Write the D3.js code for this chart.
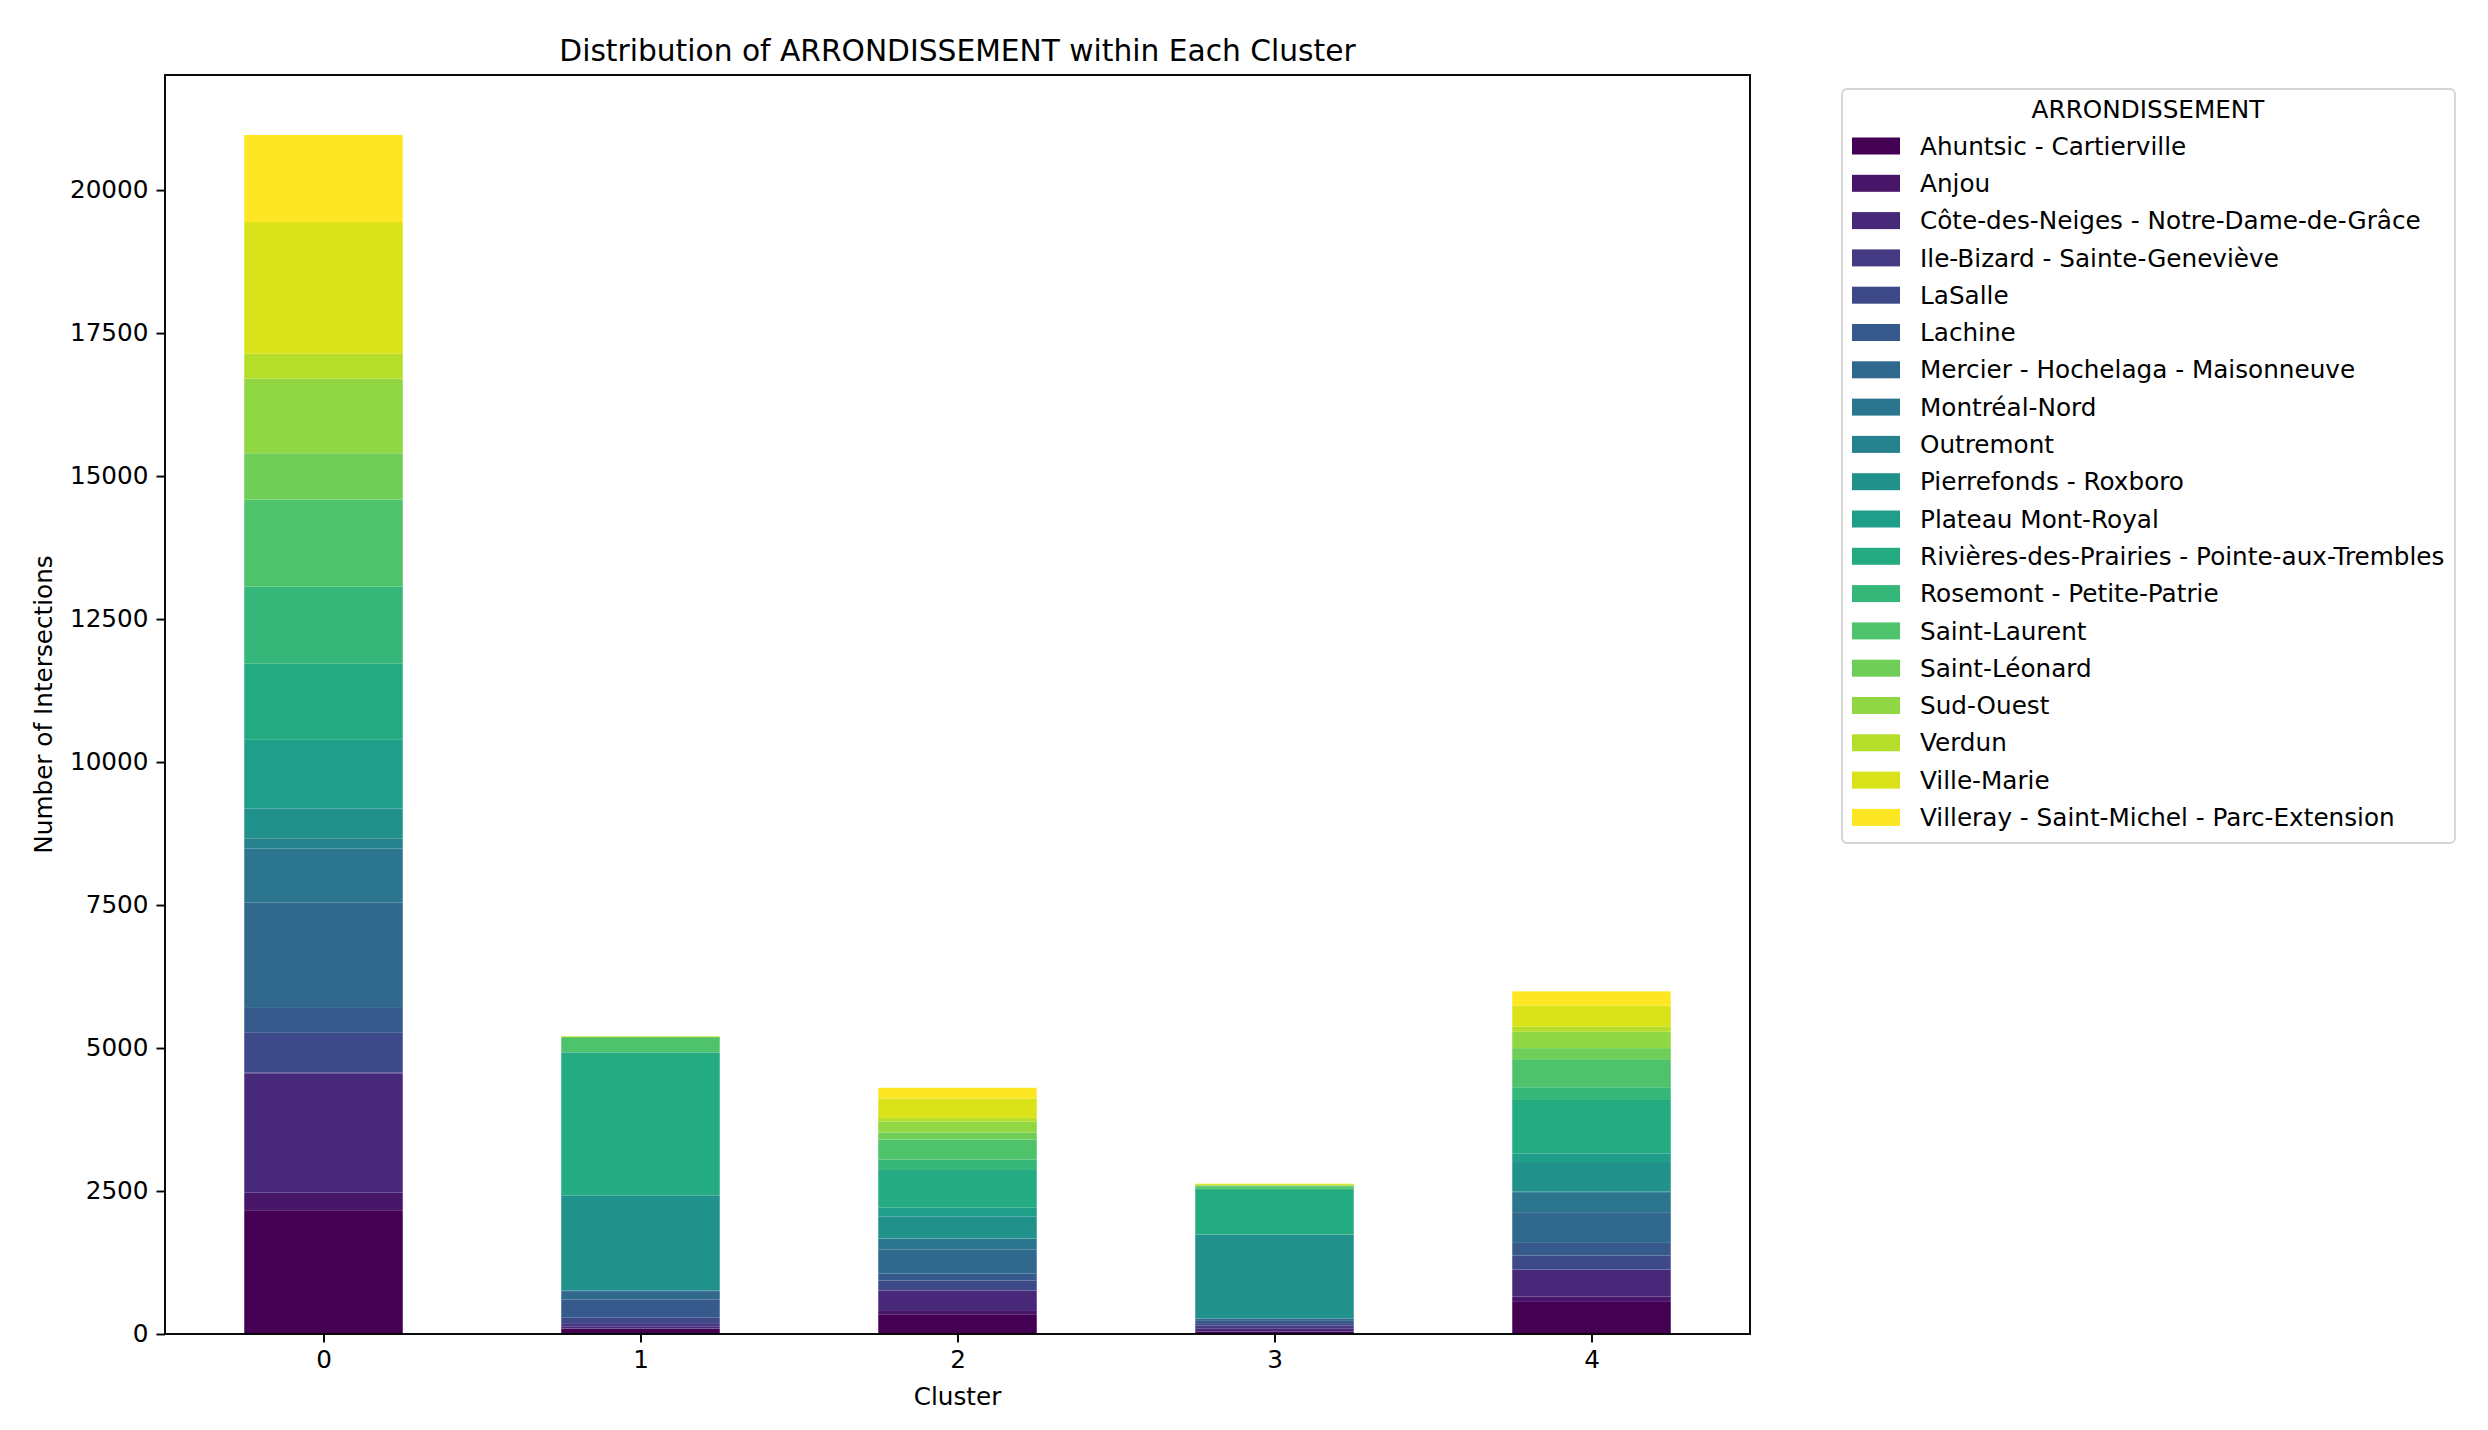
<!DOCTYPE html>
<html>
<head>
<meta charset="utf-8">
<script src="https://cdn.jsdelivr.net/npm/d3@7"></script>
<style>
  body { margin: 0; background: #fff; }
  text { font-family: "DejaVu Sans", sans-serif; fill: #000; }
</style>
</head>
<body>
<div id="vis"></div>
<script>
// cluster ids on the x axis
const clusters = ['0', '1', '2', '3', '4'];

// stacking order, bottom to top (also legend order)
const arrondissements = [
    'Ahuntsic - Cartierville',
    'Anjou',
    'Côte-des-Neiges - Notre-Dame-de-Grâce',
    'Ile-Bizard - Sainte-Geneviève',
    'LaSalle',
    'Lachine',
    'Mercier - Hochelaga - Maisonneuve',
    'Montréal-Nord',
    'Outremont',
    'Pierrefonds - Roxboro',
    'Plateau Mont-Royal',
    'Rivières-des-Prairies - Pointe-aux-Trembles',
    'Rosemont - Petite-Patrie',
    'Saint-Laurent',
    'Saint-Léonard',
    'Sud-Ouest',
    'Verdun',
    'Ville-Marie',
    'Villeray - Saint-Michel - Parc-Extension'
];

// counts per cluster, same order as arrondissements
const cluster0Counts = [2153, 318, 2087, 15, 693, 435, 1844, 944, 177, 523, 1199, 1337, 1341, 1521, 812, 1304, 435, 2304, 1522];
const cluster1Counts = [90, 5, 40, 55, 95, 320, 145, 10, 5, 1655, 10, 2490, 10, 245, 20, 5, 3, 5, 2];
const cluster2Counts = [345, 58, 356, 8, 169, 123, 420, 187, 5, 385, 158, 654, 181, 350, 123, 193, 64, 339, 187];
const cluster3Counts = [40, 10, 50, 50, 40, 40, 40, 5, 3, 1460, 5, 775, 20, 45, 15, 5, 5, 15, 5];
const cluster4Counts = [561, 93, 467, 5, 245, 222, 537, 350, 12, 514, 152, 934, 222, 491, 193, 286, 88, 368, 251];

const yTicks = [0, 2500, 5000, 7500, 10000, 12500, 15000, 17500, 20000];

const countsByCluster = [cluster0Counts, cluster1Counts, cluster2Counts, cluster3Counts, cluster4Counts];

let dimensions = {
    width: 2488,
    height: 1430,
    margin: {
        top: 75,
        right: 738,
        bottom: 96,
        left: 165
    }
};
dimensions.boundedWidth =
    dimensions.width - dimensions.margin.left - dimensions.margin.right;
dimensions.boundedHeight =
    dimensions.height - dimensions.margin.top - dimensions.margin.bottom;

const fontSize = '24.7px';

// build the table d3.stack wants
const table = clusters.map((c, i) => {
    let row = { cluster: +c };
    arrondissements.forEach((a, j) => { row[a] = countsByCluster[i][j]; });
    return row;
});

const series = d3.stack().keys(arrondissements)(table);

const colorScale = d3.scaleOrdinal()
    .domain(arrondissements)
    .range(arrondissements.map((d, i) => d3.interpolateViridis(i / (arrondissements.length - 1))));

const maxTotal = d3.max(countsByCluster, d => d3.sum(d));

const xScale = d3.scaleLinear()
    .domain([-0.5, clusters.length - 0.5])
    .range([0, dimensions.boundedWidth]);

const yScale = d3.scaleLinear()
    .domain([0, maxTotal * 1.05])
    .range([dimensions.boundedHeight, 0]);

const barWidth = xScale(0.5) - xScale(0);

const wrapper = d3.select('#vis')
    .append('svg')
    .attr('width', dimensions.width)
    .attr('height', dimensions.height);

wrapper.append('rect')
    .attr('width', dimensions.width)
    .attr('height', dimensions.height)
    .attr('fill', '#fff');

const bounds = wrapper.append('g')
    .attr('transform', `translate(${dimensions.margin.left}, ${dimensions.margin.top})`);

// stacked bars
bounds.append('g')
    .selectAll('g')
    .data(series)
    .join('g')
    .attr('fill', d => colorScale(d.key))
    .selectAll('rect')
    .data(d => d)
    .join('rect')
    .attr('x', d => xScale(d.data.cluster) - barWidth / 2)
    .attr('y', d => yScale(d[1]))
    .attr('width', barWidth)
    .attr('height', d => yScale(d[0]) - yScale(d[1]));

// axes
const tickSize = 8.5;
const xAxisGenerator = d3.axisBottom(xScale)
    .tickValues(clusters.map(Number))
    .tickFormat(d3.format('d'))
    .tickSize(tickSize)
    .tickPadding(8);
const yAxisGenerator = d3.axisLeft(yScale)
    .tickValues(yTicks)
    .tickFormat(d3.format('d'))
    .tickSize(tickSize)
    .tickPadding(8);

const xAxis = bounds.append('g')
    .attr('transform', `translate(0, ${dimensions.boundedHeight})`)
    .call(xAxisGenerator);
const yAxis = bounds.append('g')
    .call(yAxisGenerator);

[xAxis, yAxis].forEach(ax => {
    ax.select('.domain').remove();
    ax.selectAll('line').attr('stroke', '#000').attr('stroke-width', 1.9);
    ax.selectAll('text')
        .style('font-family', '"DejaVu Sans", sans-serif')
        .style('font-size', fontSize)
        .attr('fill', '#000');
});

// frame (all four spines)
bounds.append('rect')
    .attr('width', dimensions.boundedWidth)
    .attr('height', dimensions.boundedHeight)
    .attr('fill', 'none')
    .attr('stroke', '#000')
    .attr('stroke-width', 1.9);

// title and axis labels
wrapper.append('text')
    .attr('x', dimensions.margin.left + dimensions.boundedWidth / 2)
    .attr('y', 61)
    .attr('text-anchor', 'middle')
    .style('font-size', '29.7px')
    .text('Distribution of ARRONDISSEMENT within Each Cluster');

wrapper.append('text')
    .attr('x', dimensions.margin.left + dimensions.boundedWidth / 2)
    .attr('y', 1405)
    .attr('text-anchor', 'middle')
    .style('font-size', fontSize)
    .text('Cluster');

wrapper.append('text')
    .attr('transform', `translate(52, ${dimensions.margin.top + dimensions.boundedHeight / 2}) rotate(-90)`)
    .attr('text-anchor', 'middle')
    .style('font-size', fontSize)
    .text('Number of Intersections');

// legend
const legend = wrapper.append('g')
    .attr('transform', 'translate(1842, 89)');

legend.append('rect')
    .attr('width', 613)
    .attr('height', 754)
    .attr('rx', 5)
    .attr('fill', '#fff')
    .attr('stroke', '#d6d6d6')
    .attr('stroke-width', 1.9);

legend.append('text')
    .attr('x', 306)
    .attr('y', 29)
    .attr('text-anchor', 'middle')
    .style('font-size', fontSize)
    .text('ARRONDISSEMENT');

const rowStep = 37.3;
const items = legend.selectAll('.item')
    .data(arrondissements)
    .join('g')
    .attr('class', 'item')
    .attr('transform', (d, i) => `translate(10, ${57 + i * rowStep})`);

items.append('rect')
    .attr('y', -8.5)
    .attr('width', 48)
    .attr('height', 17)
    .attr('fill', d => colorScale(d));

items.append('text')
    .attr('x', 68)
    .attr('dy', '0.35em')
    .style('font-size', fontSize)
    .text(d => d);
</script>
</body>
</html>
